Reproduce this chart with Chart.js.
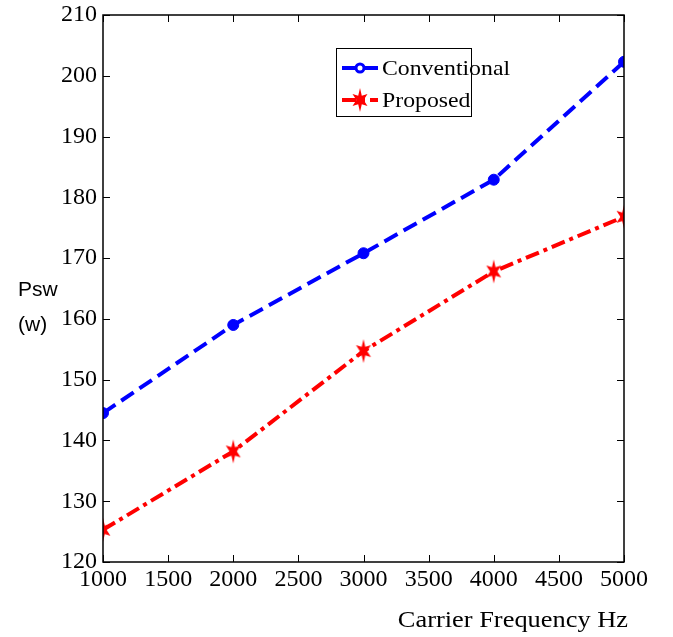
<!DOCTYPE html>
<html>
<head>
<meta charset="utf-8">
<script src="https://cdn.jsdelivr.net/npm/chart.js@4/dist/chart.umd.min.js"></script>
<style>
html,body{margin:0;padding:0;background:#fff;}
#wrap{width:673px;height:637px;position:relative;}
</style>
</head>
<body>
<div id="wrap"><canvas id="c" width="673" height="637"></canvas></div>
<script>
const frequencies = [1000, 2000, 3000, 4000, 5000];
const conventional = [144.5, 159, 170.8, 182.9, 202.3];
const proposed = [125.3, 138.2, 154.7, 167.8, 176.8];
const seriesNames = ['Conventional', 'Proposed'];
const xTitle = 'Carrier Frequency Hz';
const yTitleLines = ['Psw', '(w)'];

function makeHexStar(color) {
  const c = document.createElement('canvas');
  c.width = 18; c.height = 26;
  const g = c.getContext('2d');
  g.fillStyle = color;
  g.beginPath();
  const cx = 9, cy = 13, ro = 12, ri = 5;
  for (let i = 0; i < 12; i++) {
    const a = -Math.PI / 2 + i * Math.PI / 6;
    const r = i % 2 === 0 ? ro : ri;
    const px = cx + r * Math.cos(a) * 0.72;
    const py = cy + r * Math.sin(a);
    if (i === 0) g.moveTo(px, py); else g.lineTo(px, py);
  }
  g.closePath();
  g.fill();
  return c;
}
const starImg = makeHexStar('#ff0000');

function stretchedText(ctx, text, x, y, sx, align) {
  ctx.save();
  ctx.translate(x, y);
  ctx.scale(sx, 1);
  ctx.textAlign = align;
  ctx.fillText(text, 0, 0);
  ctx.restore();
}

const boxPlugin = {
  id: 'boxPlugin',
  afterDraw(chart) {
    const ctx = chart.ctx;
    const a = chart.chartArea;
    const xs = chart.scales.x, ys = chart.scales.y;
    ctx.save();
    ctx.strokeStyle = '#000';
    ctx.lineWidth = 1.5;
    ctx.strokeRect(a.left, a.top, a.right - a.left, a.bottom - a.top);
    ctx.lineWidth = 1;
    const tl = 7;
    xs.ticks.forEach(t => {
      const px = Math.round(xs.getPixelForValue(t.value)) + 0.5;
      ctx.beginPath();
      ctx.moveTo(px, a.bottom); ctx.lineTo(px, a.bottom - tl);
      ctx.moveTo(px, a.top); ctx.lineTo(px, a.top + tl);
      ctx.stroke();
    });
    ys.ticks.forEach(t => {
      const py = Math.round(ys.getPixelForValue(t.value)) + 0.5;
      ctx.beginPath();
      ctx.moveTo(a.left, py); ctx.lineTo(a.left + tl, py);
      ctx.moveTo(a.right, py); ctx.lineTo(a.right - tl, py);
      ctx.stroke();
    });
    // axis titles
    ctx.fillStyle = '#000';
    ctx.font = '24px "Liberation Serif", "Times New Roman", serif';
    ctx.textBaseline = 'middle';
    stretchedText(ctx, xTitle, 628, 621, 1.1, 'right');
    ctx.font = '21px "Liberation Sans", Arial, sans-serif';
    stretchedText(ctx, yTitleLines[0], 18, 290, 1.0, 'left');
    stretchedText(ctx, yTitleLines[1], 18, 325, 1.0, 'left');
    // legend
    const lx = 336, ly = 48, lw = 135, lh = 68;
    ctx.fillStyle = '#fff';
    ctx.fillRect(lx, ly, lw, lh);
    ctx.strokeStyle = '#000';
    ctx.lineWidth = 1;
    ctx.strokeRect(lx + 0.5, ly + 0.5, lw, lh);
    chart.data.datasets.forEach((ds, i) => {
      const yy = ly + 20 + i * 32;
      ctx.save();
      ctx.strokeStyle = ds.borderColor;
      ctx.lineWidth = 4;
      ctx.setLineDash(i === 0 ? [] : [14, 5, 4, 5]);
      ctx.beginPath();
      ctx.moveTo(lx + 6, yy); ctx.lineTo(lx + 42, yy);
      ctx.stroke();
      ctx.restore();
      const mx = lx + 24;
      if (i === 0) {
        ctx.beginPath();
        ctx.arc(mx, yy, 4, 0, Math.PI * 2);
        ctx.fillStyle = '#fff';
        ctx.fill();
        ctx.lineWidth = 3;
        ctx.strokeStyle = ds.borderColor;
        ctx.stroke();
      } else {
        ctx.drawImage(starImg, mx - 9, yy - 13);
      }
      ctx.fillStyle = '#000';
      ctx.font = '22px "Liberation Serif", "Times New Roman", serif';
      ctx.textBaseline = 'middle';
      stretchedText(ctx, ds.label, lx + 46, yy + 1, 1.08, 'left');
    });
    ctx.restore();
  }
};

const tickFont = {family: '"Liberation Serif", "Times New Roman", serif', size: 24, lineHeight: 1.0};

new Chart(document.getElementById('c'), {
  type: 'line',
  data: {
    datasets: [
      {
        label: seriesNames[0],
        data: frequencies.map((f, i) => ({x: f, y: conventional[i]})),
        borderColor: '#0000ff',
        backgroundColor: '#0000ff',
        borderWidth: 4,
        borderDash: [15, 7],
        pointStyle: 'circle',
        pointRadius: 5.5,
        pointBorderWidth: 1,
        pointBackgroundColor: '#0000ff',
        pointBorderColor: '#0000ff',
        tension: 0
      },
      {
        label: seriesNames[1],
        data: frequencies.map((f, i) => ({x: f, y: proposed[i]})),
        borderColor: '#ff0000',
        backgroundColor: '#ff0000',
        borderWidth: 4,
        borderDash: [14, 5, 4, 5],
        pointStyle: starImg,
        tension: 0
      }
    ]
  },
  options: {
    responsive: false,
    animation: false,
    devicePixelRatio: 1,
    layout: {padding: {left: 0, top: 15, right: 49, bottom: 0}},
    plugins: {legend: {display: false}, tooltip: {enabled: false}},
    scales: {
      x: {
        type: 'linear',
        min: 1000, max: 5000,
        grid: {display: false, drawTicks: false},
        border: {display: false},
        ticks: {
          stepSize: 500,
          color: '#000',
          padding: 6,
          maxRotation: 0,
          autoSkip: false,
          font: tickFont,
          callback: v => String(v)
        },
        afterFit(s) { s.height = 75; }
      },
      y: {
        min: 120, max: 210,
        grid: {display: false, drawTicks: false},
        border: {display: false},
        ticks: {
          stepSize: 10,
          color: '#000',
          padding: 6,
          font: tickFont,
          callback: v => String(v)
        },
        afterFit(s) { s.width = 103; s.paddingTop = 0; s.paddingBottom = 0; }
      }
    }
  },
  plugins: [boxPlugin]
});
</script>
</body>
</html>
